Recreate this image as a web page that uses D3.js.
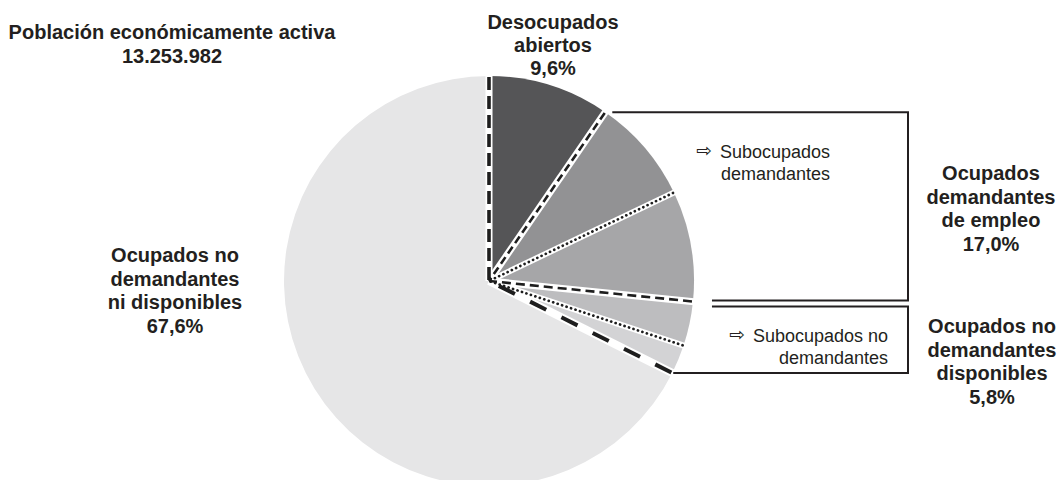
<!DOCTYPE html>
<html>
<head>
<meta charset="utf-8">
<script src="https://cdn.jsdelivr.net/npm/d3@7"></script>
<style>
  body { margin: 0; background: #fff; }
  text { font-family: "Liberation Sans", Arial, Helvetica, sans-serif; fill: #231f20; }
  .bold { font-weight: bold; font-size: 20px; }
  .reg { font-size: 18px; }
  .arrow { font-size: 19px; font-family: "DejaVu Sans", sans-serif; }
</style>
</head>
<body>
<div id="chart"></div>
<script>
// Data (percent of the economically active population)
var categories = ["Desocupados abiertos", "Subocupados demandantes", "Otros ocupados demandantes",
                  "Subocupados no demandantes", "Otros ocupados no demandantes disponibles",
                  "Ocupados no demandantes ni disponibles"];
var values = [9.6, 8.3, 8.7, 3.5, 2.3, 67.6];
var totalLabel = ["Población económicamente activa", "13.253.982"];
var groupLabels = [
  ["Desocupados", "abiertos", "9,6%"],
  ["Ocupados", "demandantes", "de empleo", "17,0%"],
  ["Ocupados no", "demandantes", "disponibles", "5,8%"],
  ["Ocupados no", "demandantes", "ni disponibles", "67,6%"]
];
var subLabels = [
  ["Subocupados", "demandantes"],
  ["Subocupados no", "demandantes"]
];

var svgWidth = 1061;
var svgHeight = 480;
var cx = 489, cy = 281, radius = 205;

var colors = ["#555557", "#929294", "#a6a6a8", "#bdbdbf", "#d3d3d5", "#e6e6e7"];

// separator line style at the start angle of each slice
var seps = [
  { w: 3.6, dash: "13,6", gap: 7, cap: "butt" },
  { w: 2.6, dash: "8,4.5", gap: 7, cap: "butt" },
  { w: 2.7, dash: "0.1,4.6", gap: 6, cap: "round" },
  { w: 2.6, dash: "9,5", gap: 7, cap: "butt" },
  { w: 2.7, dash: "0.1,4.6", gap: 6, cap: "round" },
  { w: 4, dash: "18,17", gap: 8, cap: "butt" }
];

var svg = d3.select("#chart")
  .append("svg")
  .attr("width", svgWidth)
  .attr("height", svgHeight);

var pie = d3.pie().sort(null).value(d => d);
var arcs = pie(values);

var arc = d3.arc().innerRadius(0).outerRadius(radius);

var pieGroup = svg.append("g")
  .attr("transform", `translate(${cx}, ${cy})`);

pieGroup.selectAll("path.slice")
  .data(arcs)
  .enter()
  .append("path")
  .attr("class", "slice")
  .attr("d", arc)
  .attr("fill", (d, i) => colors[i]);

function pt(a, r) {
  return [Math.sin(a) * r, -Math.cos(a) * r];
}

// white gaps along slice boundaries
pieGroup.selectAll("line.gap")
  .data(arcs)
  .enter()
  .append("line")
  .attr("class", "gap")
  .attr("x1", 0).attr("y1", 0)
  .attr("x2", d => pt(d.startAngle, radius + 1)[0])
  .attr("y2", d => pt(d.startAngle, radius + 1)[1])
  .attr("stroke", "#fff")
  .attr("stroke-width", (d, i) => seps[i].gap);

// dashed / dotted separators
pieGroup.selectAll("line.sep")
  .data(arcs)
  .enter()
  .append("line")
  .attr("class", "sep")
  .attr("x1", d => pt(d.startAngle, radius - 1)[0])
  .attr("y1", d => pt(d.startAngle, radius - 1)[1])
  .attr("x2", 0).attr("y2", 0)
  .attr("stroke", "#1e1e1e")
  .attr("stroke-width", (d, i) => seps[i].w)
  .attr("stroke-linecap", (d, i) => seps[i].cap)
  .attr("stroke-dasharray", (d, i) => seps[i].dash);

// brackets around the sub groups
function edge(i) {
  var p = pt(arcs[i].startAngle, radius);
  return [cx + p[0], cy + p[1]];
}
var boxRight = 908;
var e1 = edge(1), e3 = edge(3), e5 = edge(5);

var brackets = [
  [[e1[0] + 7, e1[1]], [boxRight, e1[1]], [boxRight, e3[1] - 1], [e3[0] + 19, e3[1] - 1]],
  [[e3[0] + 19, e3[1] + 5], [boxRight, e3[1] + 5], [boxRight, e5[1]], [e5[0] + 1, e5[1]]]
];

svg.selectAll("path.bracket")
  .data(brackets)
  .enter()
  .append("path")
  .attr("class", "bracket")
  .attr("d", d => d3.line()(d))
  .attr("fill", "none")
  .attr("stroke", "#231f20")
  .attr("stroke-width", 2);

// text blocks
function block(lines, x, y, cls, anchor, lh) {
  var t = svg.append("text")
    .attr("class", cls)
    .attr("text-anchor", anchor);
  t.selectAll("tspan")
    .data(lines)
    .enter()
    .append("tspan")
    .attr("x", x)
    .attr("y", (d, i) => y + i * lh)
    .text(d => d);
  return t;
}

block(totalLabel, 172, 39, "bold", "middle", 24);
block(groupLabels[0], 553, 29, "bold", "middle", 23);
block(groupLabels[1], 991, 180, "bold", "middle", 23.5);
block(groupLabels[2], 992, 333, "bold", "middle", 23.5);
block(groupLabels[3], 175, 262, "bold", "middle", 23.5);

var t1 = block(subLabels[0], 830, 158, "reg", "end", 22);
var t2 = block(subLabels[1], 888, 342, "reg", "end", 21.5);

// arrows before the first line of each sub label
[[t1, 158], [t2, 342]].forEach(function(p) {
  var bb = p[0].select("tspan").node().getBBox();
  svg.append("text")
    .attr("class", "arrow")
    .attr("x", bb.x - 8)
    .attr("y", p[1] - 1)
    .attr("text-anchor", "end")
    .text("\u21E8");
});
</script>
</body>
</html>
